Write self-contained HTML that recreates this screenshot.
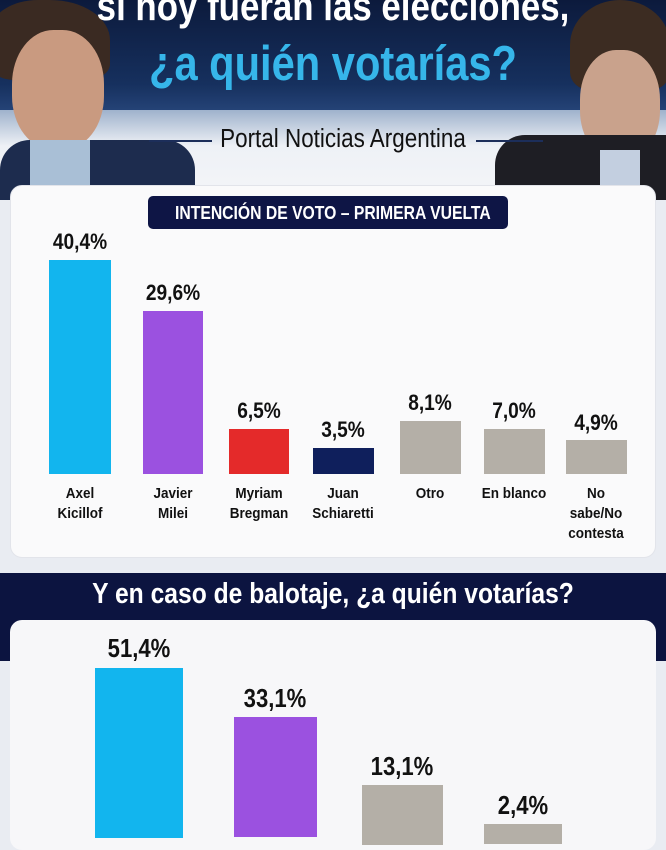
<!DOCTYPE html>
<html><head><meta charset="utf-8"><style>
*{margin:0;padding:0;box-sizing:border-box}
body{width:666px;height:832px;overflow:hidden;position:relative;background:#e9ecf2;font-family:"Liberation Sans",sans-serif;font-weight:bold}
.abs{position:absolute}
.t{position:absolute;white-space:nowrap;text-align:center}
.bar{position:absolute}
.v{position:absolute;font-size:22.5px;color:#111;text-align:center;width:100px;transform:scaleX(.85)}
.c{position:absolute;font-size:15px;color:#111;text-align:center;width:100px;line-height:20px;transform:scaleX(.9)}
</style></head><body>
<div class="abs" style="left:0;top:0;width:666px;height:120px;background:linear-gradient(#0c1a3c,#16305e 70%,#2a4a80)"></div>
<div class="abs" style="left:0;top:110px;width:666px;height:90px;background:linear-gradient(#9fb2cc,#eef1f6 40%,#f4f5f8)"></div>
<div class="abs" style="left:-10px;top:0;width:120px;height:80px;background:#3a2a22;border-radius:40% 50% 20% 20%"></div>
<div class="abs" style="left:12px;top:30px;width:92px;height:120px;background:#c99a80;border-radius:45%"></div>
<div class="abs" style="left:0;top:140px;width:195px;height:60px;background:#1d2c4e;border-radius:30px 30px 0 0"></div>
<div class="abs" style="left:30px;top:140px;width:60px;height:50px;background:#a9bfd6"></div>
<div class="abs" style="left:570px;top:0;width:100px;height:90px;background:#3c2c22;border-radius:50% 50% 20% 20%"></div>
<div class="abs" style="left:580px;top:50px;width:80px;height:110px;background:#c9a28c;border-radius:45%"></div>
<div class="abs" style="left:495px;top:135px;width:171px;height:65px;background:#1e1e24;border-radius:30px 0 0 0"></div>
<div class="abs" style="left:600px;top:150px;width:40px;height:40px;background:#c3cfe0"></div>
<div class="t" style="left:0;width:666px;top:-17px;font-size:41px;color:#fff;transform:scaleX(.85)">si hoy fueran las elecciones,</div>
<div class="t" style="left:0;width:666px;top:36px;font-size:49px;color:#36b6ea;transform:scaleX(.85)">¿a quién votarías?</div>
<div class="abs" style="left:149px;top:140px;width:63px;height:2px;background:#1c2e5a;z-index:2"></div>
<div class="abs" style="left:476px;top:140px;width:67px;height:2px;background:#1c2e5a;z-index:2"></div>
<div class="t" style="left:0;width:686px;top:125px;font-size:25.5px;color:#111;font-weight:normal;transform:scaleX(.88)">Portal Noticias Argentina</div>
<div class="abs" style="left:10px;top:185px;width:646px;height:373px;background:#fafafb;border-radius:12px;border:1px solid #e2e4ea"></div>
<div class="abs" style="left:148px;top:196px;width:360px;height:33px;background:#0e1545;border-radius:5px"></div>
<div class="t" style="left:148px;width:360px;top:202px;font-size:18.5px;color:#fff;transform:scaleX(.85)">INTENCIÓN DE VOTO – PRIMERA VUELTA</div>
<div class="bar" style="left:49px;top:260px;width:62px;height:214px;background:#12b5ee"></div>
<div class="bar" style="left:143px;top:311px;width:60px;height:163px;background:#9b51e0"></div>
<div class="bar" style="left:229px;top:429px;width:60px;height:45px;background:#e42a2a"></div>
<div class="bar" style="left:313px;top:448px;width:61px;height:26px;background:#0f1f5c"></div>
<div class="bar" style="left:400px;top:421px;width:61px;height:53px;background:#b4afa7"></div>
<div class="bar" style="left:484px;top:429px;width:61px;height:45px;background:#b4afa7"></div>
<div class="bar" style="left:566px;top:440px;width:61px;height:34px;background:#b4afa7"></div>
<div class="v" style="left:30px;top:229px">40,4%</div>
<div class="v" style="left:123px;top:280px">29,6%</div>
<div class="v" style="left:209px;top:398px">6,5%</div>
<div class="v" style="left:293px;top:417px">3,5%</div>
<div class="v" style="left:380px;top:390px">8,1%</div>
<div class="v" style="left:464px;top:398px">7,0%</div>
<div class="v" style="left:546px;top:410px">4,9%</div>
<div class="c" style="left:30px;top:484px">Axel<br>Kicillof</div>
<div class="c" style="left:123px;top:484px">Javier<br>Milei</div>
<div class="c" style="left:209px;top:484px">Myriam<br>Bregman</div>
<div class="c" style="left:293px;top:484px">Juan<br>Schiaretti</div>
<div class="c" style="left:380px;top:484px">Otro</div>
<div class="c" style="left:464px;top:484px">En blanco</div>
<div class="c" style="left:546px;top:484px">No<br>sabe/No<br>contesta</div>
<div class="abs" style="left:0;top:573px;width:666px;height:88px;background:#0c1440"></div>
<div class="t" style="left:0;width:666px;top:578px;font-size:29px;color:#fff;transform:scaleX(.85)">Y en caso de balotaje, ¿a quién votarías?</div>
<div class="abs" style="left:10px;top:620px;width:646px;height:230px;background:#f7f7f9;border-radius:12px"></div>
<div class="bar" style="left:95px;top:668px;width:88px;height:170px;background:#12b5ee"></div>
<div class="bar" style="left:234px;top:717px;width:83px;height:120px;background:#9b51e0"></div>
<div class="bar" style="left:362px;top:785px;width:81px;height:60px;background:#b4afa7"></div>
<div class="bar" style="left:484px;top:824px;width:78px;height:20px;background:#b4afa7"></div>
<div class="v" style="left:89px;top:633px;font-size:26px">51,4%</div>
<div class="v" style="left:225px;top:683px;font-size:26px">33,1%</div>
<div class="v" style="left:352px;top:751px;font-size:26px">13,1%</div>
<div class="v" style="left:473px;top:790px;font-size:26px">2,4%</div>
</body></html>
